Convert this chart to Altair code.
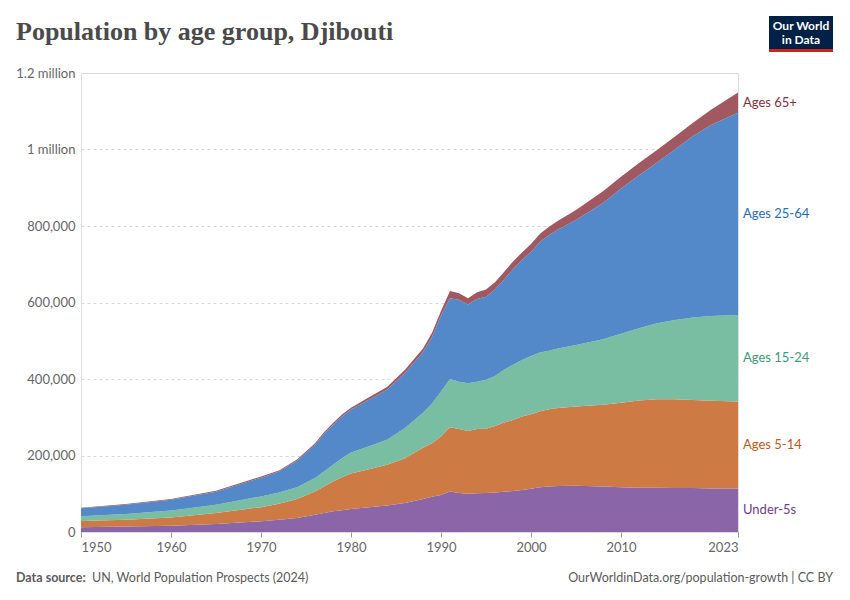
import altair as alt
import pandas as pd

years = [1950, 1955, 1960, 1965, 1970, 1972, 1974, 1976, 1977, 1978, 1979, 1980, 1982, 1984, 1986,
         1988, 1989, 1990, 1991, 1992, 1993, 1994, 1995, 1996, 1997, 1998, 1999, 2000,
         2001, 2002, 2003, 2005, 2008, 2010, 2012, 2014, 2016, 2018, 2020, 2023]

under5 = [12500, 14600, 16500, 21000, 28000, 32000, 36500, 45000, 50000, 54000, 57000, 60000, 65000, 69000, 76000,
          86000, 92000, 97000, 106000, 102000, 100000, 101000, 102000, 103000, 105000, 107000, 110000, 113000,
          117000, 119000, 120000, 121000, 119000, 117000, 116000, 116000, 115000, 115000, 114000, 114000]
ages5_14 = [16500, 17400, 21500, 29000, 37000, 42000, 49500, 61000, 69000, 78000, 86000, 93000, 99000, 107000, 117000,
            134000, 140000, 153000, 168000, 167000, 164000, 168000, 168000, 174000, 181000, 186000, 192000, 195000,
            199000, 202000, 204000, 207000, 214000, 221000, 228000, 231000, 232000, 230000, 229000, 227000]
ages15_24 = [12000, 15000, 18000, 21000, 28000, 29000, 31000, 35000, 39000, 44000, 50000, 55000, 60000, 65000, 79000,
             92000, 104000, 117000, 126000, 124000, 125000, 124000, 128000, 131000, 138000, 144000, 148000, 152000,
             153000, 153000, 156000, 161000, 171000, 180000, 189000, 199000, 207000, 216000, 222000, 226000]
ages25_64 = [21000, 24500, 28500, 34500, 49000, 55000, 69000, 87000, 98000, 104000, 109000, 112000, 122000, 131000, 144000,
             158000, 174000, 199000, 211000, 214000, 206000, 216000, 217000, 226000, 236000, 250000, 261000, 272000,
             290000, 302000, 311000, 327000, 356000, 380000, 400000, 420000, 446000, 474000, 499000, 529000]
ages65 = [1500, 1500, 2000, 2500, 3000, 3000, 3500, 4000, 4500, 5000, 5000, 5000, 6000, 7000, 8000,
          10000, 11000, 12000, 19000, 17000, 16000, 18000, 19000, 19000, 20000, 20000, 20000, 21000,
          21000, 22000, 23000, 26000, 31000, 31000, 32000, 33000, 34000, 35000, 40000, 53000]

groups = ["Under-5s", "Ages 5-14", "Ages 15-24", "Ages 25-64", "Ages 65+"]
series = [under5, ages5_14, ages15_24, ages25_64, ages65]
fill_colors = ["#8a65a7", "#cd7a45", "#79bda3", "#5389c9", "#a05961"]
text_colors = ["#6D3E91", "#C05917", "#3f9b78", "#286BBB", "#883039"]

x_ticks = [1950, 1960, 1970, 1980, 1990, 2000, 2010, 2023]
y_ticks = [0, 200000, 400000, 600000, 800000, 1000000, 1200000]

rows = []
for gi, (g, vals) in enumerate(zip(groups, series)):
    for y, v in zip(years, vals):
        rows.append({"year": y, "group": g, "value": v, "order": gi})
df = pd.DataFrame(rows)

# label positions: middle of each band at the last year
lab_rows = []
cum = 0
for gi, (g, vals) in enumerate(zip(groups, series)):
    lab_rows.append({"year": years[-1], "group": g, "mid": cum + vals[-1] / 2})
    cum += vals[-1]
labs = pd.DataFrame(lab_rows)

W, H = 657, 459
FONT = "Lato"

x_scale = alt.Scale(domain=[1950, 2023], nice=False, zero=False)
y_scale = alt.Scale(domain=[0, 1200000], nice=False)
color_scale = alt.Scale(domain=groups, range=fill_colors)
text_scale = alt.Scale(domain=groups, range=text_colors)

area = alt.Chart(df).mark_area(interpolate="linear", opacity=1).encode(
    x=alt.X("year:Q", scale=x_scale,
            axis=alt.Axis(values=x_ticks, format="d", title=None, grid=False,
                          domain=False, tickColor="#999", tickSize=5,
                          labelColor="#666", labelFont=FONT, labelFontSize=13,
                          labelPadding=4, labelFlush=True)),
    y=alt.Y("value:Q", stack="zero", scale=y_scale,
            axis=alt.Axis(values=y_ticks, title=None, domain=False, ticks=False,
                          gridDash=[3, 3], gridColor="#d9d9d9",
                          labelColor="#666", labelFont=FONT, labelFontSize=13, labelPadding=6,
                          labelExpr="datum.value >= 1000000 ? format(datum.value/1000000, '~g') + ' million' : format(datum.value, ',')")),
    color=alt.Color("group:N", scale=color_scale, legend=None),
    order=alt.Order("order:Q", sort="ascending"),
)

labels = alt.Chart(labs).mark_text(align="left", baseline="middle", dx=5,
                                   font=FONT, fontSize=13).encode(
    x=alt.X("year:Q", scale=x_scale),
    y=alt.Y("mid:Q", scale=y_scale),
    text="group:N",
    color=alt.Color("group:N", scale=text_scale, legend=None),
)

one = pd.DataFrame({"a": [0]})

title = alt.Chart(one).mark_text(text="Population by age group, Djibouti", align="left",
                                 baseline="alphabetic", font="Liberation Serif",
                                 fontSize=26, fontWeight="bold", color="#4a4a4a").encode(
    x=alt.value(-65), y=alt.value(-33))

logo_box = alt.Chart(one).mark_rect(color="#002147").encode(
    x=alt.value(688), x2=alt.value(752), y=alt.value(-57), y2=alt.value(-24))
logo_red = alt.Chart(one).mark_rect(color="#ce261e").encode(
    x=alt.value(688), x2=alt.value(752), y=alt.value(-24), y2=alt.value(-21))
logo_t1 = alt.Chart(one).mark_text(text="Our World", align="center", baseline="middle",
                                   font=FONT, fontSize=12, fontWeight="bold", color="white").encode(
    x=alt.value(720), y=alt.value(-47))
logo_t2 = alt.Chart(one).mark_text(text="in Data", align="center", baseline="middle",
                                   font=FONT, fontSize=12, fontWeight="bold", color="white").encode(
    x=alt.value(720), y=alt.value(-33))

src_b = alt.Chart(one).mark_text(text="Data source:", align="left", baseline="middle",
                                 font=FONT, fontSize=12.5, fontWeight="bold", color="#5b5b5b").encode(
    x=alt.value(-65), y=alt.value(505))
src = alt.Chart(one).mark_text(text="UN, World Population Prospects (2024)", align="left",
                               baseline="middle", font=FONT, fontSize=12.5, color="#5b5b5b").encode(
    x=alt.value(11), y=alt.value(505))
url = alt.Chart(one).mark_text(text="OurWorldinData.org/population-growth | CC BY", align="right",
                               baseline="middle", font=FONT, fontSize=12.5, color="#5b5b5b").encode(
    x=alt.value(752), y=alt.value(505))

chart = alt.layer(area, labels, title, logo_box, logo_red, logo_t1, logo_t2, src_b, src, url).resolve_scale(
    color="independent"
).properties(
    width=W, height=H,
    autosize=alt.AutoSizeParams(type="none"),
    padding={"left": 73, "top": 65, "right": 104, "bottom": 60},
).configure_view(stroke=None).configure(background="white")

chart.save("out.html", embed_options={"renderer": "svg", "actions": False})
